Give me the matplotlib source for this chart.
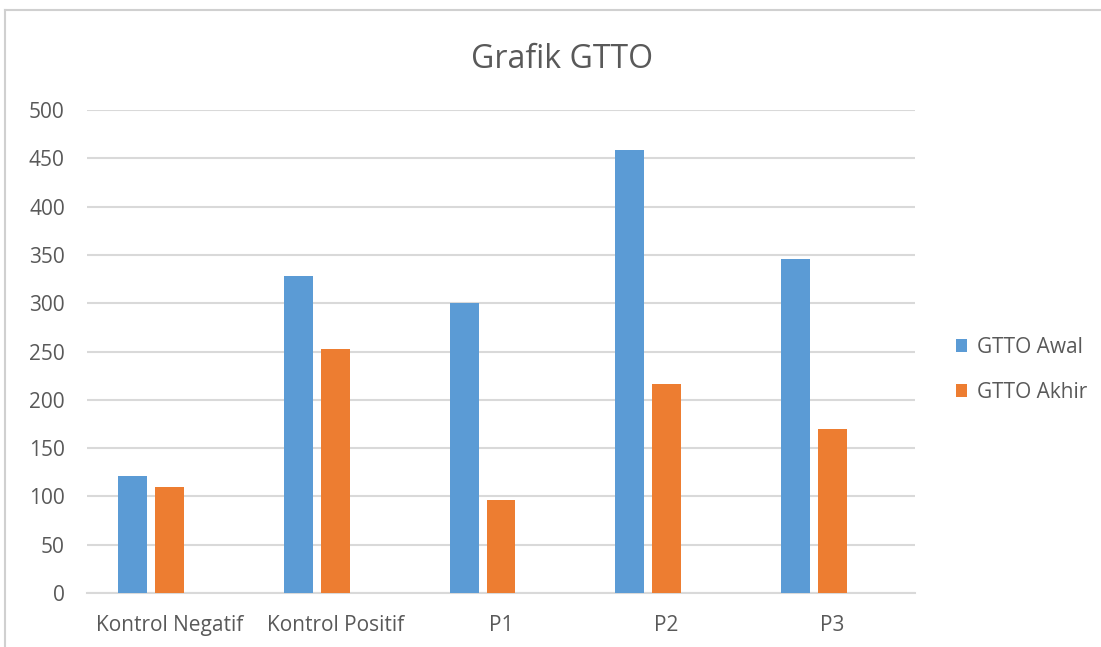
import matplotlib
matplotlib.use("Agg")
import matplotlib.pyplot as plt
import numpy as np
from matplotlib.lines import Line2D
from matplotlib.patches import Patch

categories = ["Kontrol Negatif", "Kontrol Positif", "P1", "P2", "P3"]
gtto_awal = [121, 328, 300, 459, 346]
gtto_akhir = [110, 253, 96, 216, 170]
series_names = ["GTTO Awal", "GTTO Akhir"]
yticks = [0, 50, 100, 150, 200, 250, 300, 350, 400, 450, 500]

blue = "#5B9BD5"
orange = "#ED7D31"
txt = "#595959"
grid = "#D9D9D9"

plt.rcParams['font.family'] = ['Open Sans', 'DejaVu Sans']

fig = plt.figure(figsize=(11.01, 6.47), dpi=100)
ax = fig.add_axes([87/1101, 1-593/647, (915-87)/1101, (593-110)/647])

x = np.arange(len(categories))
w = 0.175
ax.bar(x - 0.223, gtto_awal, width=w, color=blue, label=series_names[0], zorder=3)
ax.bar(x, gtto_akhir, width=w, color=orange, label=series_names[1], zorder=3)

ax.set_xlim(-0.5, len(categories) - 0.5)
ax.set_ylim(0, 500)
ax.set_yticks(yticks)
ax.set_xticks(x)
ax.set_xticklabels(categories)
ax.yaxis.grid(True, color=grid, linewidth=1.5, zorder=0)
ax.set_axisbelow(True)
for s in ["top", "right", "left"]:
    ax.spines[s].set_visible(False)
ax.spines["bottom"].set_color(grid)
ax.spines["bottom"].set_linewidth(1.5)
ax.tick_params(axis="both", length=0, colors=txt, labelsize=15)
ax.tick_params(axis="y", pad=16)
ax.tick_params(axis="x", pad=16)

fig.text(562/1101, 1-59/647, "Grafik GTTO", ha="center", va="center", fontsize=23, color=txt)

handles = [Patch(facecolor=blue), Patch(facecolor=orange)]
fig.legend(handles, series_names, loc="center left", bbox_to_anchor=(937/1101, 1-370/647),
           frameon=False, fontsize=15, labelcolor=txt, handlelength=0.55, handleheight=0.55,
           handletextpad=0.45, labelspacing=1.15)

# outer chart border (top and left)
fig.add_artist(Line2D([5/1101, 1], [1-10/647, 1-10/647], color="#D0D0D0", linewidth=1.5))
fig.add_artist(Line2D([5/1101, 5/1101], [0, 1-10/647], color="#D0D0D0", linewidth=1.5))

fig.savefig("out.png", dpi=100)
